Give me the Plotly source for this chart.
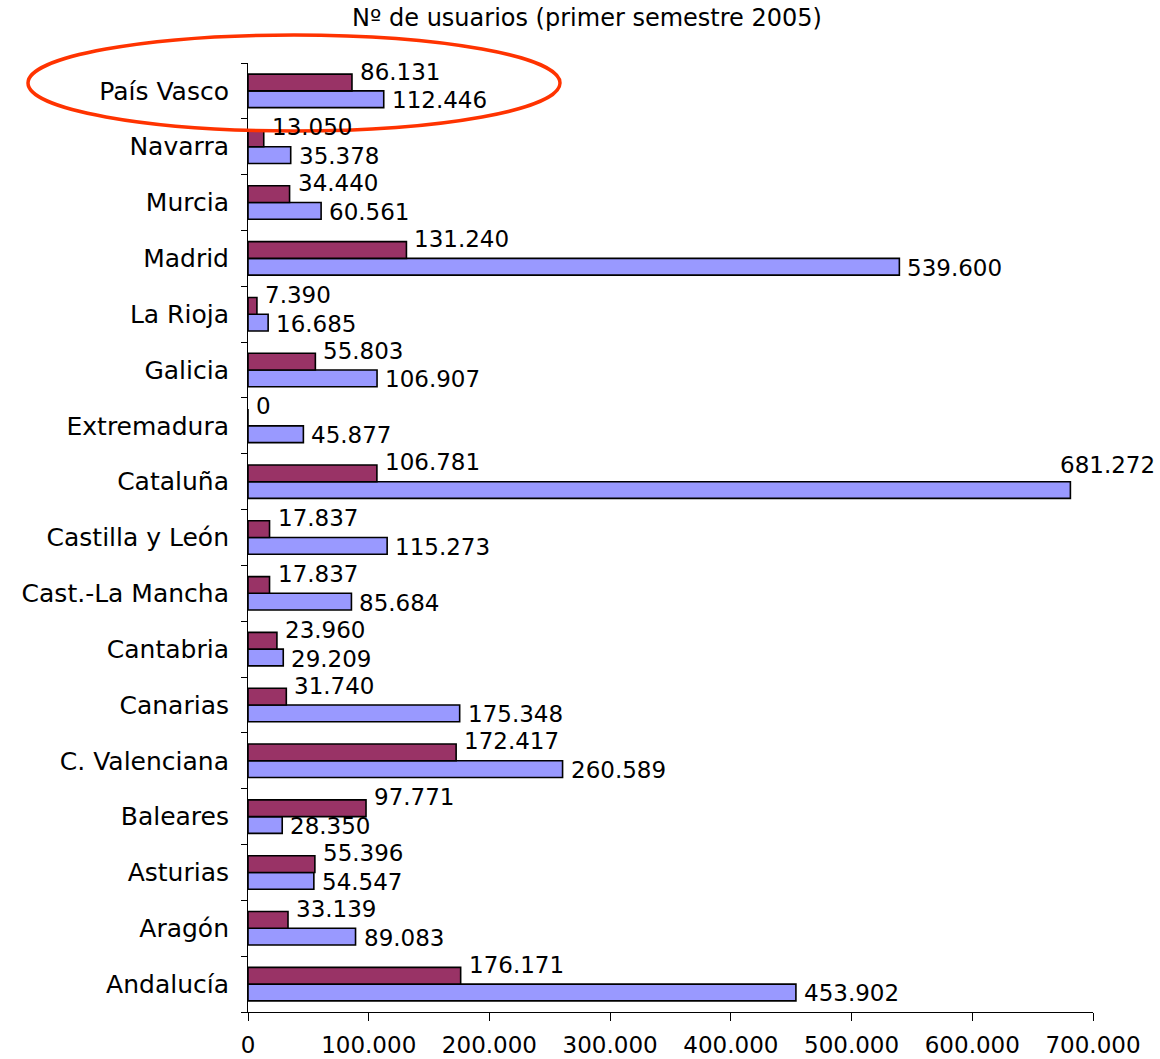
import plotly.graph_objects as go

# ---- data (bottom to top) ----
regiones = ["Andalucía", "Aragón", "Asturias", "Baleares", "C. Valenciana", "Canarias",
            "Cantabria", "Cast.-La Mancha", "Castilla y León", "Cataluña", "Extremadura",
            "Galicia", "La Rioja", "Madrid", "Murcia", "Navarra", "País Vasco"]
serie_granate = [176171, 33139, 55396, 97771, 172417, 31740, 23960, 17837, 17837, 106781,
                 0, 55803, 7390, 131240, 34440, 13050, 86131]
serie_azul = [453902, 89083, 54547, 28350, 260589, 175348, 29209, 85684, 115273, 681272,
              45877, 106907, 16685, 539600, 60561, 35378, 112446]
x_ticks = [0, 100000, 200000, 300000, 400000, 500000, 600000, 700000]
titulo = "Nº de usuarios (primer semestre 2005)"
destacado = "País Vasco"

W, H = 1160, 1059
L, R, T, B = 248, 67, 63, 47
PW, PH = W - L - R, H - T - B
FONT = "DejaVu Sans"
XMAX = 700000


def fmt(v):
    return f"{v:,}".replace(",", ".")


fig = go.Figure()
fig.add_trace(go.Bar(y=regiones, x=serie_azul, orientation="h",
                     marker=dict(color="#9999FF", line=dict(color="black", width=1.6)),
                     showlegend=False, hoverinfo="x+y"))
fig.add_trace(go.Bar(y=regiones, x=serie_granate, orientation="h",
                     marker=dict(color="#993366", line=dict(color="black", width=1.6)),
                     showlegend=False, hoverinfo="x+y"))

annotations = []
band = PH / len(regiones)
bar_h = band * 0.6 / 2
for i, reg in enumerate(regiones):
    for val, off, ysh in ((serie_granate[i], 1, 11), (serie_azul[i], -1, -1)):
        yc = (i + 0.5) / len(regiones) + off * (bar_h / 2) / PH
        xpx = val / XMAX * PW
        if xpx + 100 > PW + R - 5:
            annotations.append(dict(x=val, xref="x", y=yc, yref="paper", text=fmt(val),
                                    showarrow=False, xanchor="right", yanchor="middle",
                                    xshift=(W - 3) - (L + xpx), yshift=25,
                                    font=dict(family=FONT, size=23, color="black")))
        else:
            annotations.append(dict(x=val, xref="x", y=yc, yref="paper", text=fmt(val),
                                    showarrow=False, xanchor="left", yanchor="middle",
                                    xshift=6, yshift=ysh,
                                    font=dict(family=FONT, size=23, color="black")))

# ellipse highlighting País Vasco (pixel positions -> paper coords)
ex0, ex1, ey0, ey1 = 28, 560, 35, 131
shapes = [dict(type="circle", xref="paper", yref="paper",
               x0=(ex0 - L) / PW, x1=(ex1 - L) / PW,
               y0=(H - B - ey1) / PH, y1=(H - B - ey0) / PH,
               line=dict(color="#FF3300", width=3.5), fillcolor="rgba(0,0,0,0)")]

fig.update_layout(
    width=W, height=H,
    margin=dict(l=L, r=R, t=T, b=B, autoexpand=False),
    paper_bgcolor="white", plot_bgcolor="white",
    barmode="group", bargap=0.40, bargroupgap=0,
    separators=",.",
    font=dict(family=FONT, color="black"),
    title=dict(text=titulo, x=587 / W, y=1 - 18 / H, xref="container", yref="container",
               xanchor="center", yanchor="middle", font=dict(family=FONT, size=24, color="black")),
    annotations=annotations,
    shapes=shapes,
)
fig.update_xaxes(range=[0, XMAX], tickvals=x_ticks, tickformat=",d",
                 showgrid=False, zeroline=False, showline=True, linecolor="black", linewidth=1,
                 ticks="outside", ticklen=8, tickcolor="black", tickwidth=1,
                 tickfont=dict(family=FONT, size=23, color="black"), ticklabelstandoff=4)
fig.update_yaxes(type="category", categoryorder="array", categoryarray=regiones,
                 showgrid=False, zeroline=False, showline=True, linecolor="black", linewidth=1,
                 ticks="outside", ticklen=6, tickcolor="black", tickwidth=1, tickson="boundaries",
                 tickfont=dict(family=FONT, size=25, color="black"), ticklabelstandoff=13)

fig.write_html("out.html", config={"displayModeBar": False},
               post_script="document.body.style.margin='0px';document.body.style.overflow='hidden';")
